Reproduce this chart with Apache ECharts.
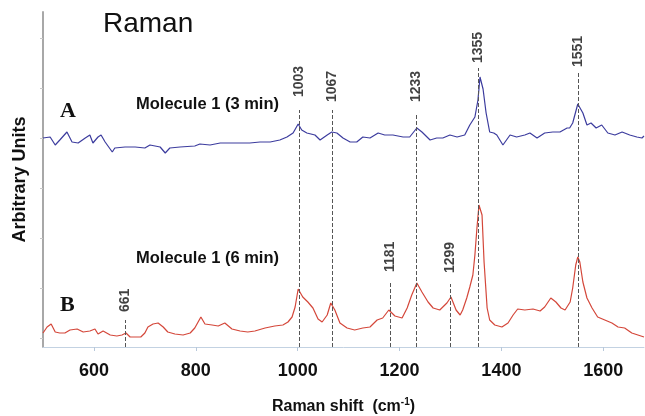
<!DOCTYPE html>
<html>
<head>
<meta charset="utf-8">
<script src="https://cdn.jsdelivr.net/npm/echarts@6/dist/echarts.min.js"></script>
<style>html,body{margin:0;padding:0;background:#fff}#c{width:645px;height:416px}</style>
</head>
<body>
<div id="c"></div>
<script>
// Raman shift (cm-1) and intensity (arbitrary units) for spectrum A (3 min)
const aShift = [500,514,524,533,547,557,569,583,592,598,608,614,622,636,641,661,681,700,710,730,740,749,769,798,808,828,848,867,887,906,926,946,965,979,991,1001,1008,1018,1034,1044,1058,1067,1077,1089,1103,1116,1128,1142,1158,1171,1187,1207,1220,1234,1244,1260,1273,1285,1299,1313,1328,1338,1348,1354,1358,1364,1370,1377,1385,1391,1403,1417,1430,1446,1456,1470,1485,1501,1515,1529,1534,1540,1550,1560,1568,1576,1586,1597,1609,1623,1637,1652,1666,1676,1680];
const aInt = [209,210,202,207,215,205,204,209,212,204,210,212,205,195,199,200,200,199,202,200,194,199,200,201,203,202,204,204,204,204,205,205,207,210,214,223,217,214,212,207,212,215,214,209,205,205,210,209,214,212,212,210,210,219,215,207,209,209,212,210,212,222,230,247,270,258,234,215,214,212,202,212,210,212,214,209,214,215,215,219,219,224,243,234,222,224,219,222,214,212,215,212,210,209,211];
// spectrum B (6 min)
const bShift = [500,508,516,524,533,543,553,567,579,592,602,608,618,632,645,655,663,671,685,692,700,706,716,726,736,745,759,775,789,798,810,818,832,844,857,871,887,902,916,936,955,971,981,989,995,1001,1010,1020,1030,1040,1048,1058,1065,1073,1083,1097,1112,1128,1142,1156,1167,1179,1191,1205,1215,1224,1234,1244,1256,1266,1279,1293,1301,1311,1319,1324,1332,1338,1344,1348,1352,1356,1362,1366,1372,1377,1387,1401,1413,1423,1432,1446,1462,1476,1485,1497,1507,1517,1525,1535,1540,1546,1550,1554,1560,1568,1578,1589,1603,1617,1629,1642,1656,1668,1680];
const bInt = [14,20,23,15,14,14,17,18,15,16,18,13,16,12,11,12,14,10,10,10,14,20,23,24,20,15,13,12,14,19,30,23,22,21,24,18,16,15,16,19,21,22,25,30,40,58,50,45,39,28,25,32,44,37,24,19,17,19,20,27,29,37,31,29,39,52,64,55,45,39,37,44,50,37,32,37,49,60,72,92,119,142,132,85,39,27,22,20,24,32,38,37,38,36,40,49,45,39,37,45,59,82,90,85,65,49,39,30,27,24,20,19,14,12,10];
// annotated peaks
const peakLabels = ['661','1003','1067','1181','1233','1299','1355','1551'];
const peakPos = [661,1003,1067,1181,1233,1299,1355,1551];
const peakLineTop = [27,237,237,64,234,63,279,274];
const peakLabelBase = [35,250,245,75,245,74,284,280];
const xTicks = [600,800,1000,1200,1400,1600];
const yTicks = [9,59,109,159,209,259,309];

const font = '"Liberation Sans", Arial, sans-serif';
const chart = echarts.init(document.getElementById('c'));
const pair = (xs, ys) => xs.map((x, i) => [x, ys[i]]);

chart.setOption({
  animation: false,
  grid: {left: 43, right: 1, top: 12, bottom: 69, containLabel: false, outerBoundsMode: 'none'},
  xAxis: {
    type: 'value', min: 500, max: 1680,
    name: 'Raman shift  (cm{sup|-1})', nameLocation: 'middle', nameGap: 50,
    nameTextStyle: {fontFamily: font, fontSize: 16, fontWeight: 'bold', color: '#111',
      rich: {sup: {fontFamily: font, fontSize: 10, fontWeight: 'bold', color: '#111', padding: [0, 0, 9, 0]}}},
    axisLine: {show: true, lineStyle: {color: '#c3d2e2', width: 1}},
    axisTick: {show: true, length: 4, inside: false, customValues: xTicks, lineStyle: {color: '#b8c8da'}},
    axisLabel: {customValues: xTicks, margin: 15, formatter: v => String(v), fontFamily: font, fontSize: 18, fontWeight: 'bold', color: '#111'},
    splitLine: {show: false}
  },
  yAxis: {
    type: 'value', min: 0, max: 335,
    name: 'Arbitrary Units', nameLocation: 'middle', nameGap: 14,
    nameTextStyle: {fontFamily: font, fontSize: 18, fontWeight: 'bold', color: '#111'},
    axisLine: {show: true, lineStyle: {color: '#a8a8a8', width: 2}},
    axisTick: {show: true, length: 3, customValues: yTicks, lineStyle: {color: '#c8c8c8'}},
    axisLabel: {show: false},
    splitLine: {show: false}
  },
  graphic: [
    {type: 'text', left: 103, top: 10, style: {text: 'Raman', font: 'normal 28px ' + font, fill: '#111'}},
    {type: 'text', left: 60, top: 100, style: {text: 'A', font: 'bold 22px "Liberation Serif", "Times New Roman", serif', fill: '#111'}},
    {type: 'text', left: 60, top: 294, style: {text: 'B', font: 'bold 22px "Liberation Serif", "Times New Roman", serif', fill: '#111'}},
    {type: 'text', left: 136, top: 96, style: {text: 'Molecule 1 (3 min)', font: 'bold 16.5px ' + font, fill: '#111'}},
    {type: 'text', left: 136, top: 250, style: {text: 'Molecule 1 (6 min)', font: 'bold 16.5px ' + font, fill: '#111'}}
  ],
  series: [
    {
      type: 'line', data: [], silent: true,
      markLine: {
        silent: true, symbol: ['none', 'none'], label: {show: false},
        lineStyle: {color: '#555', width: 1, type: [4, 2]},
        data: peakPos.map((p, i) => [{coord: [p, 0]}, {coord: [p, peakLineTop[i]]}])
      }
    },
    {
      type: 'line', name: 'A', data: pair(aShift, aInt), showSymbol: false, silent: true,
      lineStyle: {color: '#3c3c9e', width: 1.2}
    },
    {
      type: 'line', name: 'B', data: pair(bShift, bInt), showSymbol: false, silent: true,
      lineStyle: {color: '#d4473a', width: 1.2}
    },
    {
      type: 'scatter', symbolSize: 0, silent: true,
      data: peakPos.map((p, i) => ({value: [p, peakLabelBase[i]], name: peakLabels[i]})),
      label: {show: true, formatter: '{b}', position: [0, 0], rotate: 90, align: 'left', verticalAlign: 'middle',
        fontFamily: font, fontSize: 14, fontWeight: 'bold', color: '#111'}
    }
  ]
});
</script>
</body>
</html>
